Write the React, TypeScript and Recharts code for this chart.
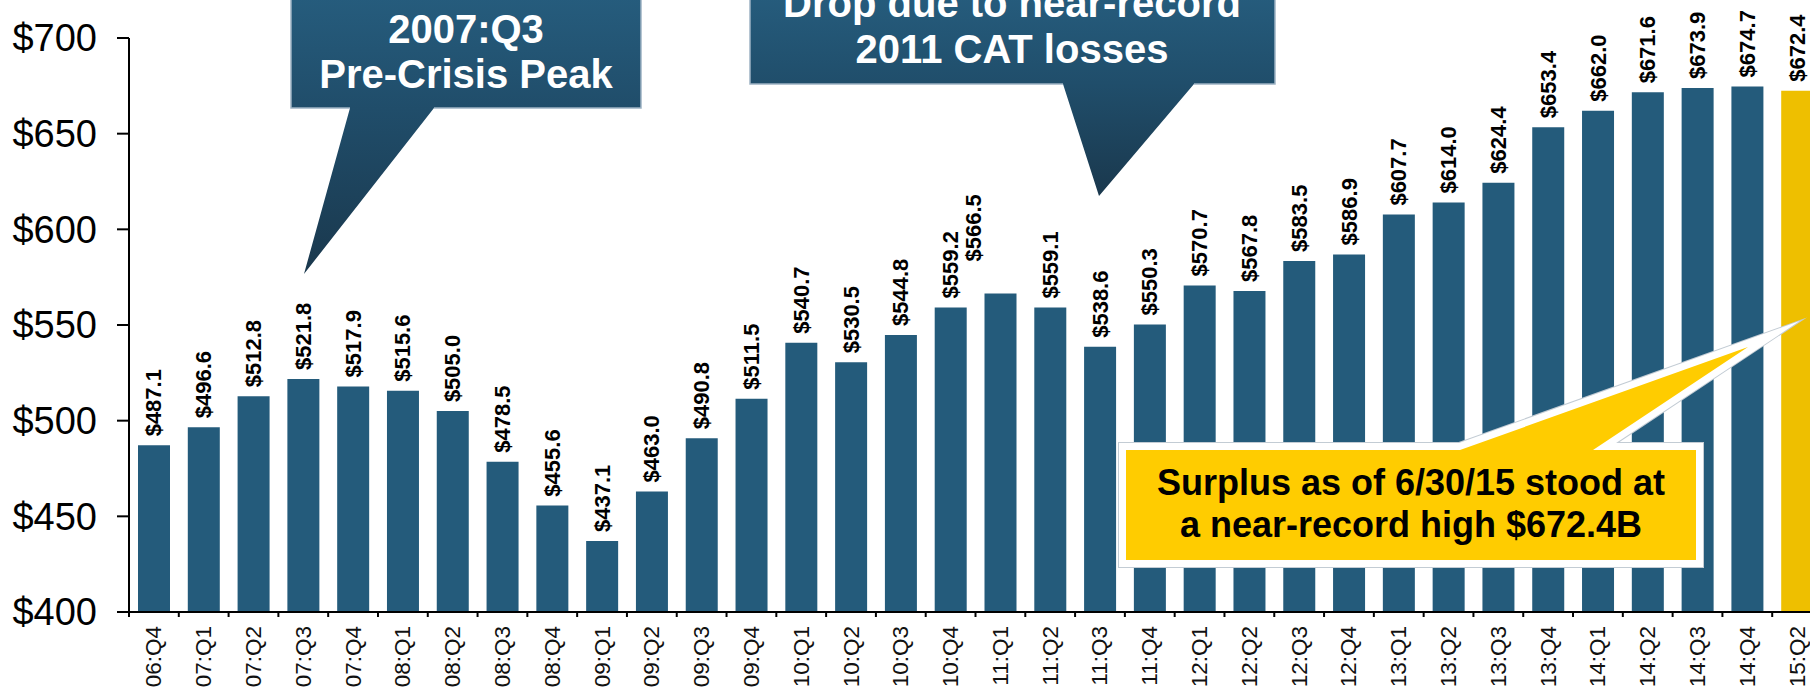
import React from "react"
import { BarChart, Bar, XAxis, YAxis, Cell, LabelList } from "recharts"

const quarters = [
  "06:Q4",
  "07:Q1", "07:Q2", "07:Q3", "07:Q4",
  "08:Q1", "08:Q2", "08:Q3", "08:Q4",
  "09:Q1", "09:Q2", "09:Q3", "09:Q4",
  "10:Q1", "10:Q2", "10:Q3", "10:Q4",
  "11:Q1", "11:Q2", "11:Q3", "11:Q4",
  "12:Q1", "12:Q2", "12:Q3", "12:Q4",
  "13:Q1", "13:Q2", "13:Q3", "13:Q4",
  "14:Q1", "14:Q2", "14:Q3", "14:Q4",
  "15:Q2",
]

const surplus = [
  487.1,
  496.6, 512.8, 521.8, 517.9,
  515.6, 505.0, 478.5, 455.6,
  437.1, 463.0, 490.8, 511.5,
  540.7, 530.5, 544.8, 559.2,
  566.5, 559.1, 538.6, 550.3,
  570.7, 567.8, 583.5, 586.9,
  607.7, 614.0, 624.4, 653.4,
  662.0, 671.6, 673.9, 674.7,
  672.4,
]

const yTicks = [400, 450, 500, 550, 600, 650, 700]
const latestQuarter = "15:Q2"
// label that sits up and to the left in the original slide
const nudgedQuarter = "11:Q1"

const data = quarters.map((q, i) => ({ quarter: q, surplus: surplus[i] }))

const FONT = "'Liberation Sans', Arial, Helvetica, sans-serif"
const BAR_BLUE = "#245b7b"
const BAR_GOLD = "#eebf00"

const CHART_W = 1830
const CHART_H = 690
const MARGIN = { top: 38, right: 8, left: 0, bottom: 0 }
const Y_AXIS_W = 129
const BAND = (CHART_W - MARGIN.left - MARGIN.right - Y_AXIS_W) / quarters.length

function QuarterTick(props: any) {
  const { x, y, payload } = props
  const left = x - BAND / 2
  const ty = y + 14
  return (
    <g>
      <line x1={left} x2={left} y1={y} y2={y + 5} stroke="#000" strokeWidth={2} />
      <text
        x={x}
        y={ty}
        transform={`rotate(-90 ${x} ${ty})`}
        textAnchor="end"
        dominantBaseline="central"
        fontSize={22.5}
        fontFamily={FONT}
        fill="#111"
      >
        {payload.value}
      </text>
    </g>
  )
}

function ValueLabel(props: any) {
  const { x, y, width, value, index } = props
  const nudged = quarters[index] === nudgedQuarter
  const cx = x + width / 2 + (nudged ? -27 : 0)
  const cy = y - 9 - (nudged ? 23 : 0)
  return (
    <text
      x={cx}
      y={cy}
      transform={`rotate(-90 ${cx} ${cy})`}
      textAnchor="start"
      dominantBaseline="central"
      fontSize={22}
      fontWeight="bold"
      fontFamily={FONT}
      fill="#000"
    >
      {`$${Number(value).toFixed(1)}`}
    </text>
  )
}

function Callouts() {
  return (
    <svg
      width={1810}
      height={690}
      style={{ position: "absolute", left: 0, top: 0, pointerEvents: "none" }}
    >
      <defs>
        <linearGradient id="gPeak" x1="0" y1="-10" x2="0" y2="274" gradientUnits="userSpaceOnUse">
          <stop offset="0" stopColor="#265d7e" />
          <stop offset="0.42" stopColor="#204d6a" />
          <stop offset="1" stopColor="#1a384d" />
        </linearGradient>
        <linearGradient id="gCat" x1="0" y1="-10" x2="0" y2="196" gradientUnits="userSpaceOnUse">
          <stop offset="0" stopColor="#265d7e" />
          <stop offset="0.45" stopColor="#204e6b" />
          <stop offset="1" stopColor="#1a384d" />
        </linearGradient>
      </defs>

      {/* 2007:Q3 peak */}
      <path d="M291,-10 H641 V108 H434 L304,274 L350,108 H291 Z" fill="url(#gPeak)" />
      <path d="M350,108 H291 V-10 M434,108 H641 V-10" fill="none" stroke="#9db3c3" strokeWidth={1.5} />
      <g fontFamily={FONT} fontWeight="bold" fontSize={40} fill="#fff" textAnchor="middle">
        <text x={466} y={43}>2007:Q3</text>
        <text x={466} y={88}>Pre-Crisis Peak</text>
      </g>

      {/* 2011 CAT losses */}
      <path d="M750,-10 H1275 V84 H1194 L1099,196 L1063,84 H750 Z" fill="url(#gCat)" />
      <path d="M1063,84 H750 V-10 M1194,84 H1275 V-10" fill="none" stroke="#9db3c3" strokeWidth={1.5} />
      <g fontFamily={FONT} fontWeight="bold" fontSize={40} fill="#fff" textAnchor="middle">
        <text x={1012} y={17}>Drop due to near-record</text>
        <text x={1012} y={63}>2011 CAT losses</text>
      </g>

      {/* latest surplus */}
      <path
        d="M1126,450 H1460 L1748,347 L1593,450 H1696 V560 H1126 Z"
        fill="none"
        stroke="#c3ccd4"
        strokeWidth={16}
        strokeMiterlimit={20}
      />
      <path
        d="M1126,450 H1460 L1748,347 L1593,450 H1696 V560 H1126 Z"
        fill="#ffcc00"
        stroke="#fff"
        strokeWidth={14}
        strokeMiterlimit={20}
        paintOrder="stroke"
      />
      <g fontFamily={FONT} fontWeight="bold" fontSize={36} fill="#000" textAnchor="middle">
        <text x={1411} y={495}>Surplus as of 6/30/15 stood at</text>
        <text x={1411} y={537}>a near-record high $672.4B</text>
      </g>
    </svg>
  )
}

export default function App() {
  return (
    <div
      style={{
        position: "absolute",
        left: 0,
        top: 0,
        width: 1810,
        height: 690,
        overflow: "hidden",
        background: "#fff",
        fontFamily: FONT,
      }}
    >
      <BarChart width={CHART_W} height={CHART_H} data={data} margin={MARGIN}>
        <XAxis
          dataKey="quarter"
          interval={0}
          height={CHART_H - MARGIN.top - 574}
          tickSize={0}
          tickMargin={0}
          tickLine={false}
          axisLine={{ stroke: "#000", strokeWidth: 2 }}
          tick={<QuarterTick />}
        />
        <YAxis
          type="number"
          domain={[400, 700]}
          ticks={yTicks}
          interval={0}
          width={Y_AXIS_W}
          tickSize={12}
          tickMargin={20}
          tickFormatter={(v) => `$${v}`}
          tick={{ fontSize: 38, fill: "#000", fontFamily: FONT }}
          tickLine={{ stroke: "#000", strokeWidth: 2 }}
          axisLine={{ stroke: "#000", strokeWidth: 2 }}
        />
        <Bar dataKey="surplus" barSize={32} isAnimationActive={false}>
          {data.map((d) => (
            <Cell key={d.quarter} fill={d.quarter === latestQuarter ? BAR_GOLD : BAR_BLUE} />
          ))}
          <LabelList dataKey="surplus" content={<ValueLabel />} />
        </Bar>
      </BarChart>
      <Callouts />
    </div>
  )
}
